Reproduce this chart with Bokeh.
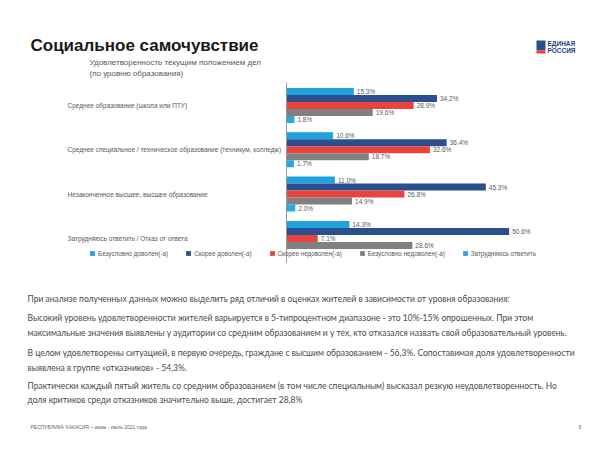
from bokeh.plotting import figure
from bokeh.models import Range1d, ColumnDataSource, Legend, LegendItem
from bokeh.transform import dodge
from bokeh.core.properties import value
from bokeh.embed import file_html
from bokeh.resources import INLINE

# ---- data ----
groups = [
    "Среднее образование (школа или ПТУ)",
    "Среднее специальное / техническое образование (техникум, колледж)",
    "Незаконченное высшее, высшее образование",
    "Затрудняюсь ответить / Отказ от ответа",
]
series = [
    "Безусловно доволен(-а)",
    "Скорее доволен(-а)",
    "Скорее недоволен(-а)",
    "Безусловно недоволен(-а)",
    "Затрудняюсь ответить",
]
s_fully_sat = [15.3, 10.6, 11.0, 14.3]
s_rather_sat = [34.2, 36.4, 45.3, 50.6]
s_rather_unsat = [28.9, 32.6, 26.8, 7.1]
s_fully_unsat = [19.6, 18.7, 14.9, 28.6]
s_hard = [1.8, 1.7, 2.0, None]
all_series = [s_fully_sat, s_rather_sat, s_rather_unsat, s_fully_unsat, s_hard]
colors = ["#1fa3dd", "#2b4f8e", "#e8433d", "#808080", "#29a8e2"]

page_title = "Социальное самочувствие"
chart_title = ["Удовлетворенность текущим положением дел", "(по уровню образования)"]
paragraphs = [
    "При анализе полученных данных можно выделить ряд отличий в оценках жителей в зависимости от уровня образования:",
    "Высокий уровень удовлетворенности жителей варьируется в 5-типроцентном диапазоне - это 10%-15% опрошенных. При этом",
    "максимальные значения выявлены у аудитории со средним образованием и у тех, кто отказался назвать свой образовательный уровень.",
    "В целом удовлетворены ситуацией, в первую очередь, граждане с высшим образованием - 56,3%. Сопоставимая доля удовлетворенности",
    "выявлена в группе «отказников» - 54,3%.",
    "Практически каждый пятый житель со средним образованием (в том числе специальным) высказал резкую неудовлетворенность. Но",
    "доля критиков среди отказников значительно выше, достигает 28,8%",
]
para_y = [298, 317, 332, 352, 367, 385, 399]
footer = "РЕСПУБЛИКА ХАКАСИЯ – июнь - июль 2021 года"
page_no = "6"

# ---- layout ----
W, H = 604, 453
p = figure(width=W, height=H, x_range=Range1d(0, W), y_range=Range1d(H, 0),
           output_backend="svg", toolbar_location=None, min_border=0)
p.axis.visible = False
p.grid.visible = False
p.outline_line_color = None
p.background_fill_color = "white"

X0, PX = 286, 4.40          # axis pixel position and px per percent
G0, GP = 105, 44.3          # first group centre and pitch in px
p.extra_x_ranges = {"pct": Range1d(-X0 / PX, (W - X0) / PX)}
p.extra_y_ranges = {"grp": Range1d((H - G0) / GP, -G0 / GP)}
BH = 7.0 / GP

FONT = "Liberation Sans"
renderers = []
for j, (vals, col) in enumerate(zip(all_series, colors)):
    gi = [i for i, v in enumerate(vals) if v is not None]
    vv = [v for v in vals if v is not None]
    src = ColumnDataSource(dict(gi=gi, v=vv, lab=[f"{v:.1f}%" for v in vv]))
    off = (j - 2) * BH
    r = p.hbar(y=dodge("gi", off), left=0, right="v", height=BH, source=src,
               fill_color=col, line_color=None, x_range_name="pct", y_range_name="grp")
    renderers.append(r)
    p.text(x="v", y=dodge("gi", off), text="lab", source=src, x_offset=3,
           text_baseline="middle", text_font=value(FONT), text_font_size="6.5px",
           text_color="#595959", x_range_name="pct", y_range_name="grp")

# axis line
p.segment(x0=[0], x1=[0], y0=[82], y1=[262], line_color="#9a9a9a", line_width=1,
          x_range_name="pct")

# category labels
p.text(x=[67] * len(groups), y=list(range(len(groups))), text=groups,
       text_baseline="middle", text_font=value(FONT), text_font_size="6.5px",
       text_color="#595959", y_range_name="grp")

# chart title
p.text(x=[89, 89], y=[62, 73], text=chart_title, text_baseline="middle",
       text_font=value(FONT), text_font_size="8px", text_color="#595959")

legend = Legend(items=[LegendItem(label=s, renderers=[r]) for s, r in zip(series, renderers)],
                orientation="horizontal", location=(89, H - 257),
                label_text_font=FONT, label_text_font_size="6.3px", label_text_color="#595959",
                glyph_width=6, glyph_height=6, label_standoff=3, spacing=17,
                label_height=8, padding=0, margin=0,
                border_line_alpha=0, background_fill_alpha=0)
p.add_layout(legend)

# page title
p.text(x=[30], y=[45], text=[page_title], text_baseline="middle",
       text_font=value(FONT), text_font_style="bold", text_font_size="17px",
       text_color="#1a1a1a")

# logo
p.quad(left=[536], right=[545], top=[40], bottom=[50], fill_color="#2b4f8e", line_color=None)
p.quad(left=[536], right=[545], top=[50], bottom=[53], fill_color="#e8433d", line_color=None)
p.text(x=[547, 547], y=[42.5, 49.5], text=["ЕДИНАЯ", "РОССИЯ"], text_baseline="middle",
       text_font=value(FONT), text_font_style="bold", text_font_size="6.5px",
       text_color="#23407e")

# paragraphs
p.text(x=[27] * len(paragraphs), y=para_y, text=paragraphs, text_baseline="middle",
       text_font=value("Lato"), text_font_size="8.5px", text_color="#4a4a4a")

# footer
p.text(x=[30], y=[426], text=[footer], text_baseline="middle",
       text_font=value(FONT), text_font_size="5px", text_color="#666666")
p.text(x=[578], y=[426], text=[page_no], text_baseline="middle",
       text_font=value(FONT), text_font_size="5px", text_color="#666666")

open("out.html", "w").write(file_html(p, INLINE))
